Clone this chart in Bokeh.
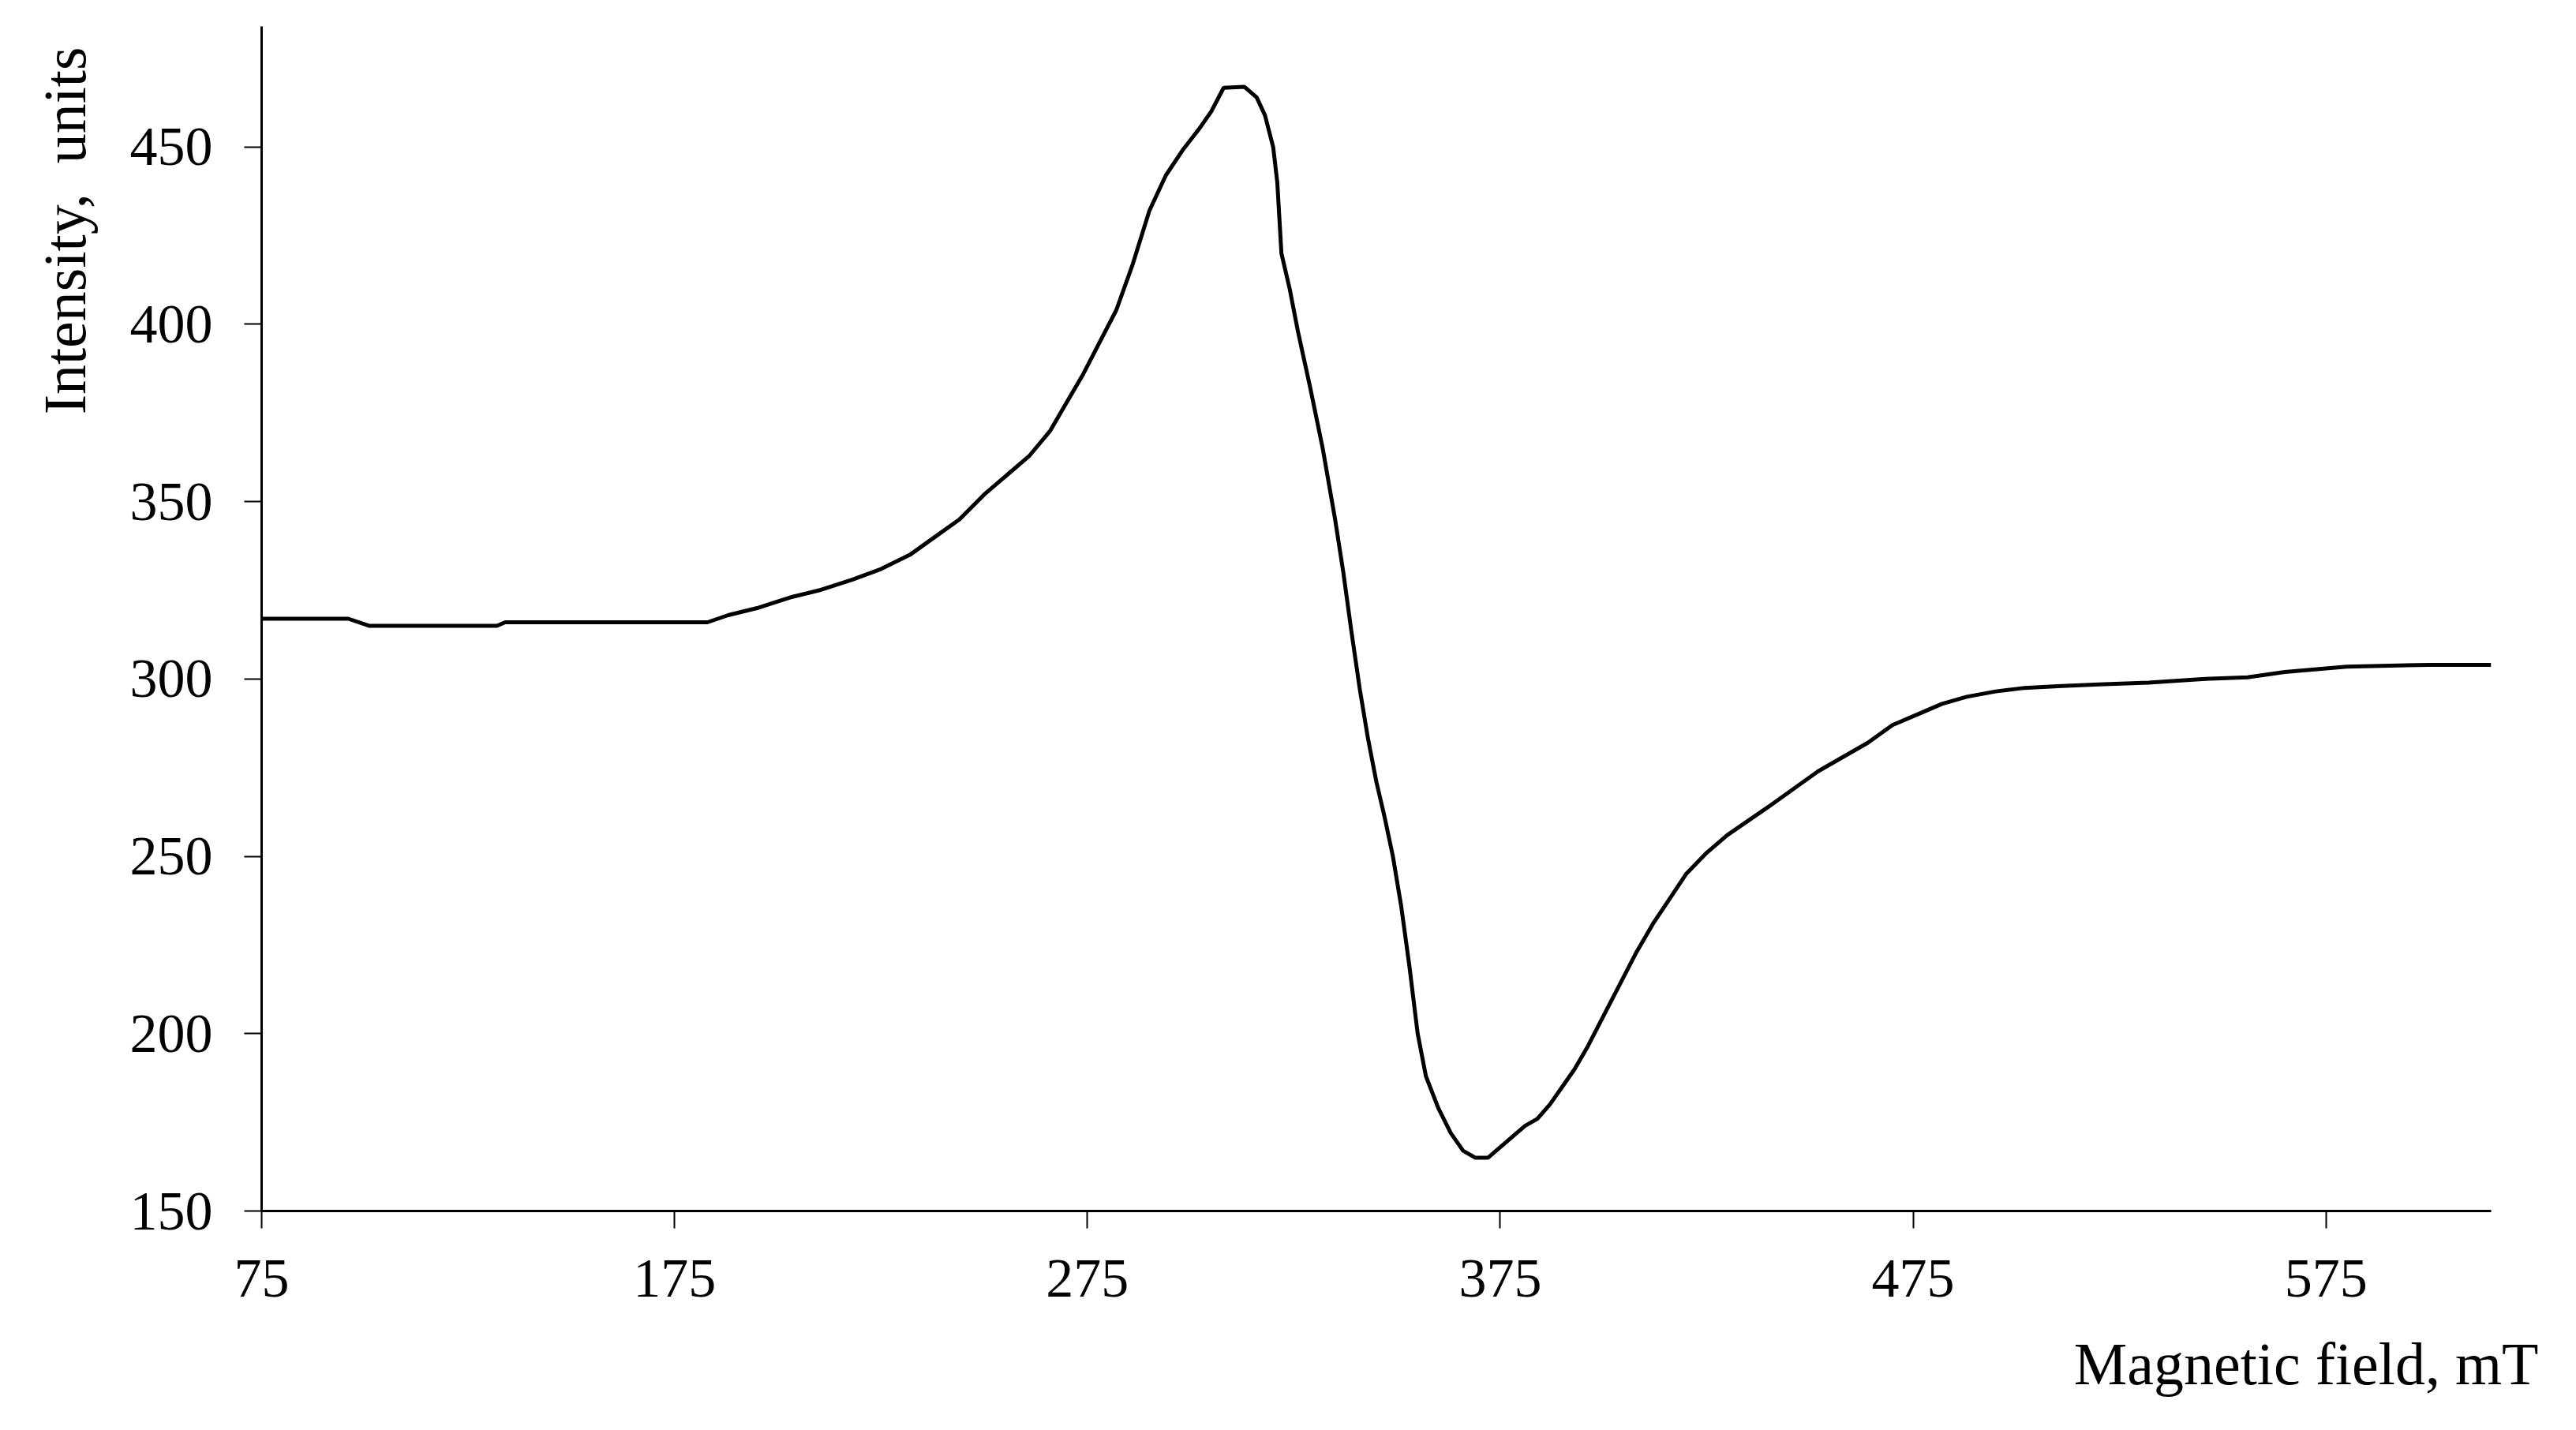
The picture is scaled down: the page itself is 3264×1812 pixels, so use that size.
from bokeh.plotting import figure
from bokeh.models import Range1d, Title, FixedTicker
from bokeh.embed import file_html
from bokeh.resources import INLINE

# Magnetic field (mT)
field = [75, 96, 101, 132, 134, 183, 188, 195, 203, 210, 218, 225, 232, 238, 244,
         250, 256, 261, 266, 270, 274, 278, 282, 286, 290, 294, 298, 302, 305, 308,
         313, 316, 318, 320, 321, 322, 324, 326, 329, 332, 335, 337, 339, 341, 343,
         345, 347, 349, 351, 353, 355, 357, 360, 363, 366, 369, 372, 375, 378, 381,
         384, 387, 390, 393, 396, 400, 404, 408, 412, 416, 420, 425, 430, 435, 440,
         446, 452, 458, 464, 470, 476, 482, 488, 495, 502, 510, 520, 532, 545, 556,
         565, 580, 600, 615]
# Intensity (units)
intensity = [317, 317, 315, 315, 316, 316, 318, 320, 323, 325, 328, 331, 335, 340, 345,
             352, 358, 363, 370, 378, 386, 395, 404, 417, 432, 442, 449, 455, 460, 466.7,
             467, 464, 459, 450, 440, 420, 410, 398, 382, 365, 345, 330, 313, 297, 283,
             271, 261, 250, 236, 219, 200, 188, 179, 172, 167, 165, 165, 168, 171, 174,
             176, 180, 185, 190, 196, 205, 214, 223, 231, 238, 245, 251, 256, 260, 264,
             269, 274, 278, 282, 287, 290, 293, 295, 296.5, 297.5, 298, 298.5, 299, 300, 300.5,
             302, 303.5, 304, 304]

x_ticks = [75, 175, 275, 375, 475, 575]
y_ticks = [150, 200, 250, 300, 350, 400, 450]

W, H = 3248, 1812
FONT = "Liberation Serif"

p = figure(width=W, height=H, output_backend="svg", toolbar_location=None,
           x_range=Range1d(75, 615), y_range=Range1d(150, 484),
           min_border_left=331, min_border_right=92, min_border_top=33,
           min_border_bottom=H - 1534)

p.line(field, intensity, line_color="black", line_width=5)

p.grid.visible = False
p.outline_line_color = None
p.background_fill_color = "white"
p.border_fill_color = "white"

for ax in (p.xaxis[0], p.yaxis[0]):
    ax.axis_line_color = "black"
    ax.axis_line_width = 3
    ax.major_tick_line_color = "black"
    ax.major_tick_line_width = 2
    ax.major_tick_out = 22
    ax.major_tick_in = 0
    ax.minor_tick_line_color = None
    ax.major_label_text_font = FONT
    ax.major_label_text_font_size = "70px"
    ax.major_label_text_color = "black"

p.xaxis[0].ticker = FixedTicker(ticks=x_ticks)
p.yaxis[0].ticker = FixedTicker(ticks=y_ticks)
p.xaxis[0].major_label_standoff = 40
p.yaxis[0].major_label_standoff = 40

p.add_layout(Title(text="Magnetic field, mT", align="right", offset=-60, standoff=76,
                   text_font=FONT, text_font_size="76px", text_font_style="normal",
                   text_color="black"), "below")
p.add_layout(Title(text="Intensity,\u00a0 units", align="right", offset=26, standoff=75,
                   text_font=FONT, text_font_size="76px", text_font_style="normal",
                   text_color="black"), "left")

open("out.html", "w").write(file_html(p, INLINE))
